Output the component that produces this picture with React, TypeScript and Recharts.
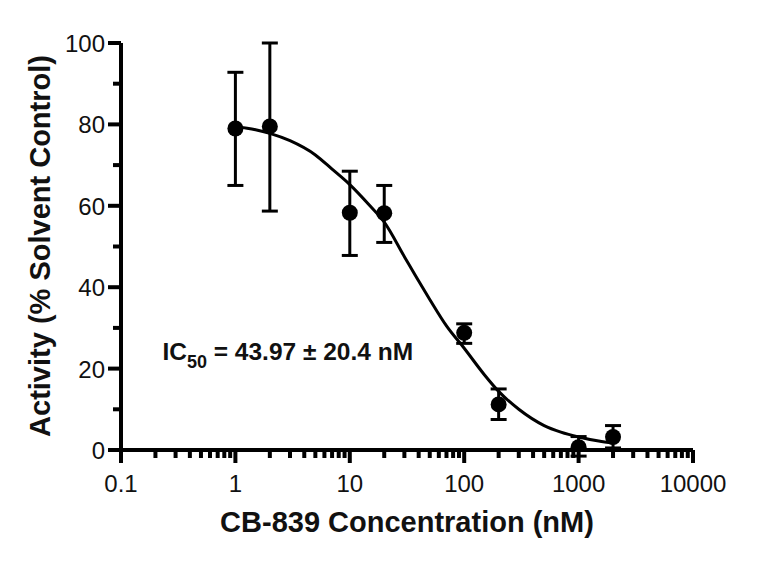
import React from 'react';
import {
  ComposedChart,
  Line,
  Scatter,
  ErrorBar,
  XAxis,
  YAxis,
  ReferenceDot,
} from 'recharts';

// measured points (nM, % activity) with error bar limits
const conc = [1, 2, 10, 20, 100, 200, 1000, 2000];
const activity = [79, 79.5, 58.3, 58.2, 28.8, 11.2, 0.7, 3.2];
const upper = [92.8, 100, 68.5, 65, 31, 15, 3.3, 6];
const lower = [65, 58.7, 47.8, 51, 26.2, 7.5, -1.5, 0.5];

// fitted curve
const fitX = [1, 1.5, 2, 3, 5, 7, 10, 15, 20, 30, 40, 50, 70, 100, 150, 200, 300, 500, 700, 1000, 1500, 2000];
const fitY = [79.5, 78.7, 77.8, 76, 72.5, 69, 65.2, 60, 56, 47.5, 41.5, 37, 30.5, 25, 18.5, 14.4, 10, 6, 4.4, 3.2, 2.2, 1.7];

const xMajor = [0.1, 1, 10, 100, 1000, 10000];
const xLabels = ['0.1', '1', '10', '100', '1000', '10000'];
const yTicks = [0, 10, 20, 30, 40, 50, 60, 70, 80, 90, 100];
const yLabeled = [0, 20, 40, 60, 80, 100];

const FONT = '"Liberation Sans", Arial, sans-serif';

const points = conc.map((c, i) => ({
  x: c,
  y: activity[i],
  err: [activity[i] - lower[i], upper[i] - activity[i]],
}));
const fit = fitX.map((x, i) => ({ x, y: fitY[i] }));

// minor ticks 2..9 inside each decade
const xTicks: number[] = [];
xMajor.forEach((m, i) => {
  xTicks.push(m);
  if (i < xMajor.length - 1) {
    for (let k = 2; k <= 9; k++) xTicks.push(+(m * k).toPrecision(3));
  }
});

const XTick = (props: any) => {
  const { x, y, payload } = props;
  const idx = xMajor.indexOf(payload.value);
  const major = idx >= 0;
  return (
    <g>
      <line x1={x} x2={x} y1={y} y2={y + (major ? 13 : 8)} stroke="#000" strokeWidth={4} />
      {major && (
        <text x={x} y={y + 42} textAnchor="middle" fontSize={24} fontFamily={FONT} fill="#111">
          {xLabels[idx]}
        </text>
      )}
    </g>
  );
};

const YTick = (props: any) => {
  const { x, y, payload } = props;
  const major = yLabeled.includes(payload.value);
  return (
    <g>
      <line x1={x - (major ? 13 : 8)} x2={x} y1={y} y2={y} stroke="#000" strokeWidth={4} />
      {major && (
        <text x={x - 16} y={y + 9} textAnchor="end" fontSize={24} fontFamily={FONT} fill="#111">
          {payload.value}
        </text>
      )}
    </g>
  );
};

const Dot = (props: any) => <circle cx={props.cx} cy={props.cy} r={8} fill="#000" />;

export default function App() {
  return (
    <div style={{ position: 'absolute', left: 0, top: 0, background: '#fff' }}>
      <ComposedChart width={768} height={563} margin={{ top: 43, right: 75, bottom: 0, left: 0 }}>
        <XAxis
          dataKey="x"
          type="number"
          scale="log"
          domain={[0.1, 10000]}
          ticks={xTicks}
          interval={0}
          allowDataOverflow
          height={113}
          tickSize={0}
          tickMargin={0}
          tickLine={false}
          tick={<XTick />}
          axisLine={{ stroke: '#000', strokeWidth: 4 }}
          label={{
            content: () => (
              <text x={407} y={532} textAnchor="middle" fontSize={29} fontWeight="bold" fontFamily={FONT} fill="#111">
                CB-839 Concentration (nM)
              </text>
            ),
          }}
        />
        <YAxis
          dataKey="y"
          type="number"
          domain={[0, 100]}
          ticks={yTicks}
          interval={0}
          allowDataOverflow
          width={121}
          tickSize={0}
          tickMargin={0}
          tickLine={false}
          tick={<YTick />}
          axisLine={{ stroke: '#000', strokeWidth: 4 }}
          label={{
            content: () => (
              <text
                x={50}
                y={246}
                transform="rotate(-90 50 246)"
                textAnchor="middle"
                fontSize={29}
                fontWeight="bold"
                fontFamily={FONT}
                fill="#111"
              >
                Activity (% Solvent Control)
              </text>
            ),
          }}
        />
        <Line
          data={fit}
          dataKey="y"
          type="monotone"
          stroke="#000"
          strokeWidth={3}
          dot={false}
          isAnimationActive={false}
        />
        <Scatter data={points} dataKey="y" shape={<Dot />} isAnimationActive={false}>
          <ErrorBar dataKey="err" direction="y" width={8} stroke="#000" strokeWidth={3} />
        </Scatter>
        <ReferenceDot
          x={0.23}
          y={24}
          r={0}
          label={{
            content: (p: any) => (
              <text x={p.viewBox.x} y={p.viewBox.y + 8} fontSize={24.5} fontWeight="bold" fontFamily={FONT} fill="#111">
                IC
                <tspan fontSize={18} dy={8}>50</tspan>
                <tspan dy={-8}> = 43.97 ± 20.4 nM</tspan>
              </text>
            ),
          }}
        />
      </ComposedChart>
    </div>
  );
}
